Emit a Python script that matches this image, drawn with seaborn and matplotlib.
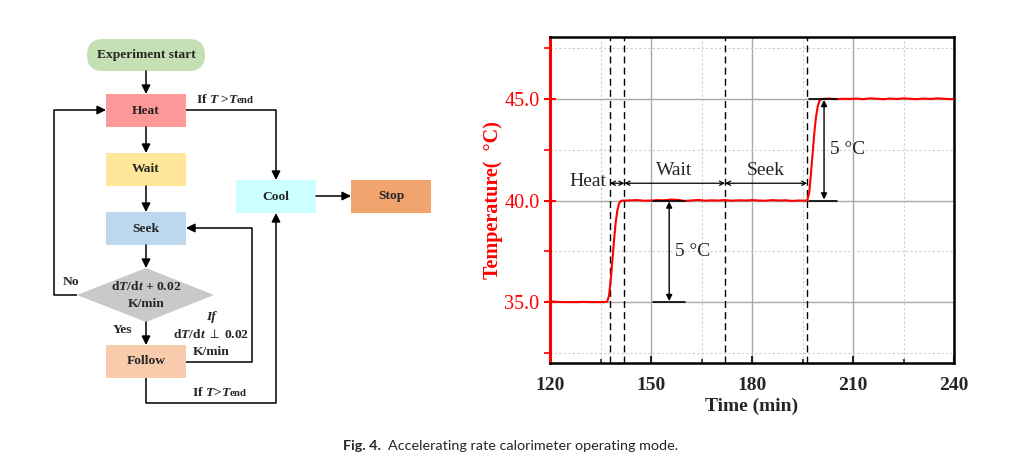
import matplotlib
matplotlib.use("Agg")
import matplotlib.pyplot as plt
from matplotlib.patches import Rectangle, FancyBboxPatch, Polygon, FancyArrowPatch
from matplotlib.ticker import MultipleLocator
import seaborn as sns

# temperature trace (min, degC)
time_min = [120, 122, 124, 126, 128, 130, 132, 134, 136, 137.0, 137.5, 138.0, 138.5,
            139.0, 139.5, 140.0, 140.5, 141.0, 141.5, 142, 144, 146, 148, 150, 152,
            154, 156, 158, 160, 162, 164, 166, 168, 170, 172, 174, 176, 178, 180,
            182, 184, 186, 188, 190, 192, 194, 196, 196.5, 197.0, 197.5, 198.0,
            198.5, 199.0, 199.5, 200.0, 200.5, 201, 203, 205, 207, 209, 211, 213,
            215, 217, 219, 221, 223, 225, 227, 229, 231, 233, 235, 237, 239, 240]
temp_c = [35.03, 35.01, 35.0, 35.0, 35.0, 35.01, 35.0, 35.0, 35.0, 35.02, 35.3, 36.0, 37.0,
          38.0, 38.9, 39.5, 39.85, 39.97, 40.0, 39.99, 40.01, 40.02, 39.99, 40.0, 40.02,
          40.01, 40.05, 40.03, 39.98, 40.0, 40.03, 39.99, 40.01, 40.0, 40.02, 39.99, 40.01,
          40.0, 40.02, 40.0, 39.99, 40.02, 40.0, 40.01, 39.98, 40.0, 39.99, 40.05, 40.4,
          41.3, 42.3, 43.3, 44.1, 44.6, 44.9, 44.98, 45.0, 45.02, 44.99, 45.01, 45.0,
          45.02, 44.99, 45.03, 45.01, 44.99, 45.02, 45.0, 45.03, 45.01, 44.99, 45.02,
          45.0, 45.03, 45.01, 44.99, 45.0]

# phase boundaries (dashed lines) and labels
phase_edges = [137.8, 142.1, 172.0, 196.4]
phase_names = ["Heat", "Wait", "Seek"]
step_size = "5 \u00b0C"
x_ticks = [120, 150, 180, 210, 240]
y_ticks = [35.0, 40.0, 45.0]

sns.set_style("ticks")
plt.rcParams['font.family'] = ['Liberation Serif', 'DejaVu Serif']
plt.rcParams['mathtext.fontset'] = 'custom'
plt.rcParams['mathtext.rm'] = 'Liberation Serif:bold'
plt.rcParams['mathtext.it'] = 'Liberation Serif:italic:bold'
plt.rcParams['mathtext.bf'] = 'Liberation Serif:bold'

W, H = 1029, 466
fig = plt.figure(figsize=(W / 100, H / 100), dpi=100)

# ---- flowchart, drawn in pixel coordinates ----
fc = fig.add_axes([0, 0, 1, 1])
fc.set_xlim(0, W)
fc.set_ylim(H, 0)
fc.axis('off')

fs_box = 9.7
boxes = [
    ("Heat", 106, 94, '#ff9999'),
    ("Wait", 106, 153, '#ffe699'),
    ("Seek", 106, 212, '#bdd7ee'),
    ("Follow", 106, 345, '#f8cbad'),
    ("Cool", 236, 180, '#ccffff'),
    ("Stop", 351, 180, '#f2a46f'),
]
for name, x0, y0, col in boxes:
    fc.add_patch(Rectangle((x0, y0), 80, 33, facecolor=col, edgecolor='none'))
    fc.text(x0 + 40, y0 + 16.5, name, ha='center', va='center', fontsize=fs_box, fontweight='bold')

fc.add_patch(FancyBboxPatch((87, 39), 118, 32, boxstyle="round,pad=0,rounding_size=16",
                            facecolor='#c5e0b4', edgecolor='none'))
fc.text(146, 55, "Experiment start", ha='center', va='center', fontsize=fs_box, fontweight='bold')

fc.add_patch(Polygon([(77, 295), (146, 268), (214, 295), (146, 322)], closed=True,
                     facecolor='#c9c9c9', edgecolor='none'))
fc.text(146, 287, "d$T$/d$t$ + 0.02", ha='center', va='center', fontsize=fs_box, fontweight='bold')
fc.text(146, 304, "K/min", ha='center', va='center', fontsize=fs_box, fontweight='bold')

lk = dict(color='black', lw=1.1, solid_capstyle='butt')


def arrow(p0, p1):
    fc.add_patch(FancyArrowPatch(p0, p1, arrowstyle='-|>', mutation_scale=13, lw=1.1,
                                 color='black', shrinkA=0, shrinkB=0))


arrow((146, 71), (146, 94))
arrow((146, 127), (146, 153))
arrow((146, 186), (146, 212))
arrow((146, 245), (146, 268))
arrow((146, 322), (146, 345))
fc.plot([186, 276], [110, 110], **lk)
arrow((276, 110), (276, 180))
fc.plot([77, 54, 54], [295, 295, 110], **lk)
arrow((54, 110), (106, 110))
fc.plot([186, 252, 252], [362, 362, 228], **lk)
arrow((252, 228), (186, 228))
fc.plot([146, 146, 276], [378, 403, 403], **lk)
arrow((276, 403), (276, 213))
arrow((316, 196), (351, 196))


def cond_text(x, y, s):
    t = fc.text(x, y, s, ha='left', va='baseline', fontsize=fs_box, fontweight='bold')
    fc.annotate("end", xy=(1, 0), xycoords=t, xytext=(-1.5, 0.5), textcoords='offset points',
                ha='left', va='bottom', fontsize=7.8, fontweight='bold')


cond_text(196, 103, "If $T$ >$T$")
cond_text(192, 396, "If $T$>$T$")
fc.text(71, 282, "No", ha='center', va='center', fontsize=fs_box, fontweight='bold')
fc.text(123, 330, "Yes", ha='center', va='center', fontsize=fs_box, fontweight='bold')
fc.text(211, 317, "If", ha='center', va='center', fontsize=fs_box, fontweight='bold', fontstyle='italic')
fc.text(211, 335, r"d$T$/d$t$ $\perp$ 0.02", ha='center', va='center', fontsize=fs_box,
        fontweight='bold')
fc.text(211, 352, "K/min", ha='center', va='center', fontsize=fs_box, fontweight='bold')

# ---- temperature chart ----
ax = fig.add_axes([550 / W, 1 - 363 / H, 404 / W, 326 / H])
sns.lineplot(x=time_min, y=temp_c, ax=ax, color='red', lw=1.5, estimator=None, zorder=5)
ax.set_xlim(120, 240)
ax.set_ylim(32.0, 48.05)
ax.set_xticks(x_ticks)
ax.set_yticks(y_ticks)
ax.set_xticklabels([str(v) for v in x_ticks], fontsize=14, fontweight='bold')
ax.set_yticklabels([f"{v:.1f}" for v in y_ticks], fontsize=14.5, color='red')
ax.xaxis.set_minor_locator(MultipleLocator(15))
ax.yaxis.set_minor_locator(MultipleLocator(2.5))
ax.grid(which='major', color='#a8a8a8', lw=1, ls='-')
ax.grid(which='minor', color='#cfcfcf', lw=0.8, ls=(0, (2, 2)))
ax.set_axisbelow(True)
ax.tick_params(axis='both', which='both', direction='in')
ax.tick_params(axis='both', which='major', length=5, width=1.5)
ax.tick_params(axis='both', which='minor', length=3, width=1.2)
ax.tick_params(axis='y', which='major', colors='red', direction='inout', length=8)
ax.tick_params(axis='y', which='minor', colors='red', direction='out', length=4)
ax.tick_params(axis='x', pad=10)
for side in ['top', 'right', 'bottom']:
    ax.spines[side].set_linewidth(1.8)
    ax.spines[side].set_color('black')
ax.spines['left'].set_linewidth(2.2)
ax.spines['left'].set_color('red')
ax.set_xlabel("Time (min)", fontsize=14, fontweight='bold', labelpad=3)
ax.set_ylabel("Temperature(  \u00b0C)", fontsize=14.5, fontweight='bold', color='red', labelpad=1)

for xe in phase_edges:
    ax.axvline(xe, color='black', lw=1, ls=(0, (5, 3)), zorder=4)

y_arr = 40.85
for a, b in zip(phase_edges[:-1], phase_edges[1:]):
    ax.add_patch(FancyArrowPatch((a, y_arr), (b, y_arr), arrowstyle='<->,head_length=3,head_width=1.5',
                                 mutation_scale=1, lw=0.9, color='black', shrinkA=0, shrinkB=0,
                                 zorder=6))
ax.text(136.8, 40.92, phase_names[0], ha='right', va='center', fontsize=14)
ax.text(156.8, 41.46, phase_names[1], ha='center', va='center', fontsize=14)
ax.text(184.2, 41.46, phase_names[2], ha='center', va='center', fontsize=14)

# 5 degC step markers
ax.plot([150.6, 160], [35, 35], color='black', lw=1.2, zorder=6)
ax.plot([150.6, 160], [40, 40], color='black', lw=1.2, zorder=6)
ax.add_patch(FancyArrowPatch((155.4, 35.05), (155.4, 39.95), arrowstyle='<|-|>', mutation_scale=9,
                             lw=1, color='black', shrinkA=0, shrinkB=0, zorder=6))
ax.text(157.1, 37.5, step_size, ha='left', va='center', fontsize=14)
ax.plot([197, 205.2], [45, 45], color='black', lw=1.2, zorder=6)
ax.plot([197, 205.2], [40, 40], color='black', lw=1.2, zorder=6)
ax.add_patch(FancyArrowPatch((201.4, 40.05), (201.4, 44.95), arrowstyle='<|-|>', mutation_scale=9,
                             lw=1, color='black', shrinkA=0, shrinkB=0, zorder=6))
ax.text(203.2, 42.5, step_size, ha='left', va='center', fontsize=14)

# caption
fig.text(343 / W, 1 - 446 / H, "Fig. 4.", ha='left', va='center', fontsize=10.4,
         fontweight='bold', family=['Lato', 'DejaVu Sans'])
fig.text(388 / W, 1 - 446 / H, "Accelerating rate calorimeter operating mode.", ha='left',
         va='center', fontsize=10.4, family=['Lato', 'DejaVu Sans'])

fig.savefig("out.png", dpi=100)
